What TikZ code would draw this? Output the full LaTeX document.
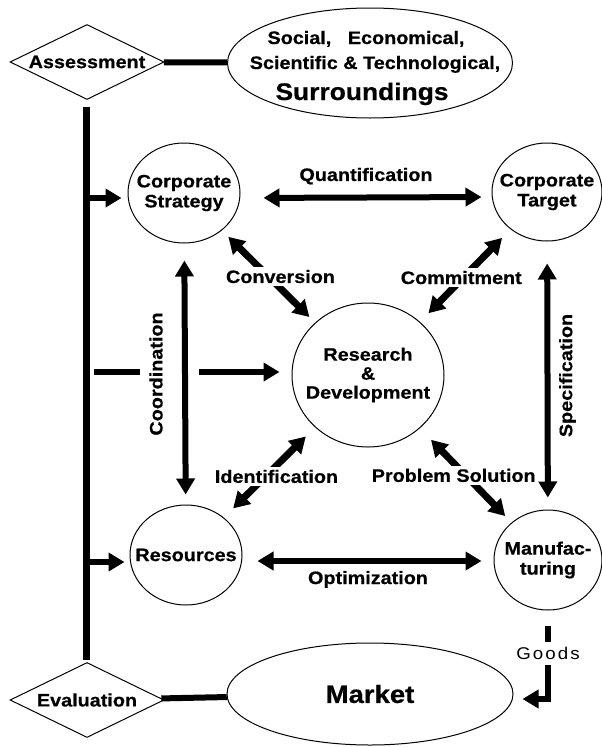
\documentclass[tikz,border=0pt]{standalone}
\usepackage{fontspec}
\setmainfont{Liberation Sans}[FakeStretch=1.1, BoldFeatures={FakeBold=0.6}]
\newfontfamily\goodsfont{Liberation Sans}[FakeStretch=1.1, LetterSpace=12]
\usetikzlibrary{shapes.geometric,arrows.meta}

\begin{document}
\begin{tikzpicture}[x=1pt, y=-1pt,
        >={Triangle[length=16pt, width=18pt]},
        bubble/.style={draw, ellipse, line width=1pt, inner sep=0pt, minimum width=112pt, minimum height=100pt},
        rhomb/.style={draw, diamond, aspect=2, line width=1pt, inner sep=0pt, minimum width=154pt, minimum height=75pt, font=\bfseries\fontsize{18}{20}\selectfont},
        txt/.style={align=center, inner sep=1pt, font=\bfseries\fontsize{18}{20}\selectfont},
        tag/.style={txt, fill=white, inner sep=3pt},
        goods/.style={fill=white, inner xsep=2pt, inner ysep=5pt, font=\goodsfont\fontsize{17}{20}\selectfont},
        arrow/.style={->, line width=6pt},
        dblarrow/.style={<->, line width=6pt},
        link/.style={line width=6pt}
    ]

    \useasboundingbox (0,0) rectangle (602,747);

    % Surroundings and market
    \node[rhomb] (assess) at (87,62) {Assessment};
    \node[bubble, minimum width=285pt, minimum height=110pt] (surr) at (370,63) {};
    \node[txt, anchor=base] (surr1) at (366,44) {Social,\ \ \ Economical,};
    \node[txt, anchor=base] (surr2) at (375,69) {Scientific \& Technological,};
    \node[txt, anchor=base, font=\bfseries\fontsize{24}{28}\selectfont] (surr3) at (362,100) {Surroundings};
    \node[rhomb] (eval) at (87,700) {Evaluation};
    \node[bubble, minimum width=286pt, minimum height=102pt, font=\bfseries\fontsize{25}{28}\selectfont] (market) at (370,694) {Market};

    % Functions
    \node[bubble, label={[txt]center:{Corporate\\Strategy}}] (strat) at (184,193) {};
    \node[bubble, minimum width=110pt, minimum height=98pt, label={[txt]center:{Corporate\\Target}}] (target) at (547,192) {};
    \node[bubble, minimum width=152pt, minimum height=144pt, label={[txt, font=\bfseries\fontsize{18}{19}\selectfont]center:{Research\\\&\\Development}}] (rd) at (368,375) {};
    \node[bubble, label={[txt]center:Resources}] (res) at (186,555) {};
    \node[bubble, minimum width=108pt, label={[txt]center:{Manufac-\\turing}}] (manu) at (548,560) {};

    % Feedback line
    \coordinate (ltop) at (86,107);
    \coordinate (lbot) at (86,660);
    \coordinate (b1) at (86,198);
    \coordinate (b2) at (94,372);
    \coordinate (b2a) at (140,372);
    \coordinate (b2b) at (199,372);
    \coordinate (b3) at (86,562);
    \coordinate (gbend) at (548,699);

    \draw[link, line width=7pt] (ltop) -- (lbot);
    \draw[link] (assess) -- (surr);
    \draw[link] (eval) -- (market);
    \draw[arrow, shorten >=6pt] (b1) -- (b1 -| strat.west);
    \draw[link] (b2) -- (b2a);
    \draw[arrow, shorten >=12pt] (b2b) -- (b2b -| rd.west);
    \draw[arrow, shorten >=5pt] (b3) -- (b3 -| res.west);

    % Relations
    \draw[dblarrow, line width=7pt, shorten <=9pt, shorten >=8pt] (strat) -- (rd) node[midway, xshift=12pt, tag] {Conversion};
    \draw[dblarrow, line width=7pt, shorten <=12pt, shorten >=12pt] (target) -- (rd) node[midway, xshift=-4pt, yshift=-2pt, tag] {Commitment};
    \draw[dblarrow, line width=7pt, shorten <=13pt, shorten >=13pt] (rd) -- (res) node[midway, xshift=7pt, yshift=-4pt, tag] {Identification};
    \draw[dblarrow, line width=7pt, shorten <=16pt, shorten >=9pt] (rd) -- (manu) node[midway, xshift=-12pt, tag] {Problem Solution};
    \draw[dblarrow, shorten <=23pt, shorten >=10pt] ([yshift=-5pt]strat.east) -- ([yshift=-5pt]target.west) node[midway, above=9pt, txt] {Quantification};
    \draw[dblarrow, shorten <=15pt, shorten >=12pt] ([yshift=-6pt]res.east) -- ([yshift=-1pt]manu.west) node[midway, below=6pt, txt] {Optimization};
    \draw[dblarrow, shorten <=17pt, shorten >=10pt] (strat) -- (res) node[midway, xshift=-29pt, rotate=90, txt] {Coordination};
    \draw[dblarrow, shorten <=22pt, shorten >=12pt] (target) -- (manu) node[midway, xshift=20pt, rotate=90, txt] {Specification};

    % Goods to market
    \draw[arrow, shorten >=9pt] ([yshift=-15pt]manu.south) -- node[pos=0.38, goods] {Goods} (gbend) -- (gbend -| market.east);

\end{tikzpicture}
\end{document}
